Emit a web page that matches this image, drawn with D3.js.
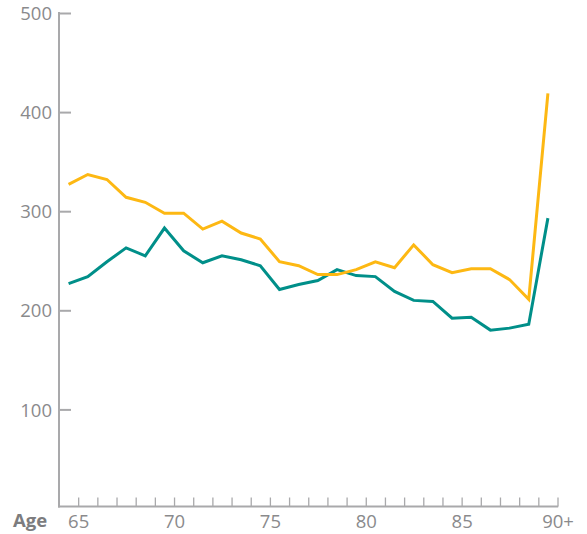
<!DOCTYPE html>
<html>
<head>
<meta charset="utf-8">
<script src="https://cdn.jsdelivr.net/npm/d3@7"></script>
<style>
  html, body { margin: 0; padding: 0; background: #fff; }
  svg { display: block; }
  text { font-family: "Open Sans", "Noto Sans", sans-serif; }
</style>
</head>
<body>
<svg id="chart" width="587" height="534"></svg>
<script>
const ages = ["65","66","67","68","69","70","71","72","73","74","75","76","77","78","79","80","81","82","83","84","85","86","87","88","89","90+"];
const tickLabels = ["65","70","75","80","85","90+"];
const seriesOrange = [327, 337, 332, 314, 309, 298, 298, 282, 290, 278, 272, 249, 245, 236, 236, 241, 249, 243, 266, 246, 238, 242, 242, 231, 211, 419];
const seriesTeal = [227, 234, 249, 263, 255, 283, 260, 248, 255, 251, 245, 221, 226, 230, 241, 235, 234, 219, 210, 209, 192, 193, 180, 182, 186, 293];
const yTicks = [100, 200, 300, 400, 500];

const svg = d3.select("#chart");
const axisColor = "#a9a9ab";
const textColor = "#8a8a8c";

const x = d3.scaleBand().domain(ages).range([59, 557.5]).padding(0);
const bw = x.bandwidth();
const y = d3.scaleLinear().domain([0, 500]).range([508.5, 13]);
const axisY = 506.5;

// tick positions (right edge of each band)
const xt = d3.scalePoint().domain(ages).range([x(ages[0]) + bw, x(ages[ages.length - 1]) + bw]);

// Y axis
const gy = svg.append("g").attr("transform", "translate(59,0)")
  .call(d3.axisLeft(y).tickValues(yTicks).tickSize(-12).tickPadding(7));
gy.select(".domain").remove();
gy.selectAll(".tick line").attr("stroke", axisColor).attr("stroke-width", 2);
gy.selectAll(".tick text").attr("fill", textColor).attr("font-size", 18.5).attr("dy", "0.36em");
svg.append("line").attr("x1", 59).attr("x2", 59).attr("y1", y(500) - 1).attr("y2", axisY + 1)
  .attr("stroke", axisColor).attr("stroke-width", 2);

// X axis
const gx = svg.append("g").attr("transform", `translate(0,${axisY})`)
  .call(d3.axisBottom(xt).tickSize(-9).tickPadding(8)
    .tickFormat(d => tickLabels.includes(d) ? d : ""));
gx.select(".domain").remove();
gx.selectAll(".tick line").attr("stroke", axisColor).attr("stroke-width", 1.3);
gx.selectAll(".tick text").attr("fill", textColor).attr("font-size", 18.5);
svg.append("line").attr("x1", 58).attr("x2", xt(ages[ages.length - 1]) + 0.7).attr("y1", axisY).attr("y2", axisY)
  .attr("stroke", axisColor).attr("stroke-width", 2);

svg.append("text").attr("x", 13).attr("y", 527).attr("font-size", 18.5).attr("font-weight", "bold")
  .attr("fill", "#7c7c7e").text("Age");

// Lines
const line = d3.line().x((d, i) => x(ages[i]) + bw / 2).y(d => y(d));
svg.append("path").datum(seriesTeal).attr("d", line).attr("fill", "none")
  .attr("stroke", "#008f89").attr("stroke-width", 3).attr("stroke-linejoin", "miter");
svg.append("path").datum(seriesOrange).attr("d", line).attr("fill", "none")
  .attr("stroke", "#fdb813").attr("stroke-width", 3).attr("stroke-linejoin", "miter");
</script>
</body>
</html>
